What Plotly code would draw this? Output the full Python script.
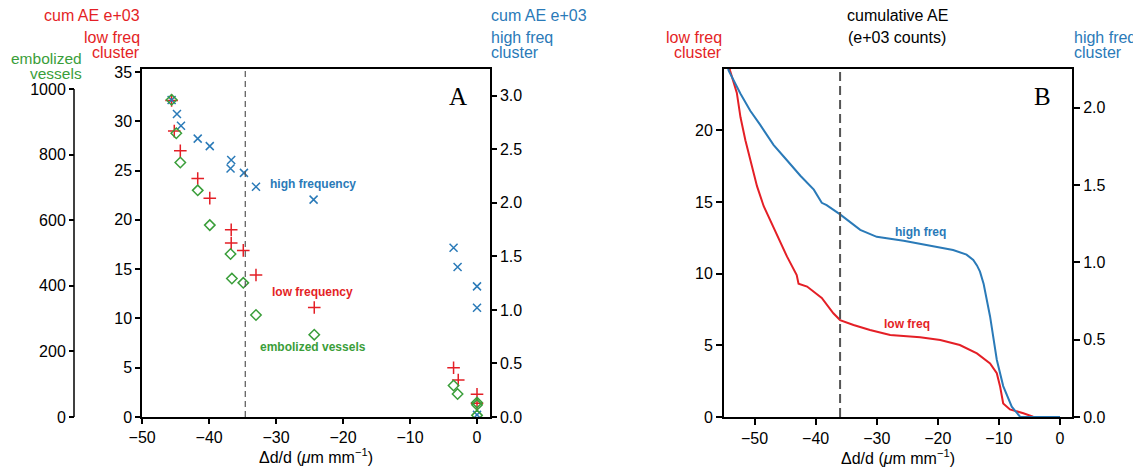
import plotly.graph_objects as go

# ---------------- Panel A data ----------------
a_hf_x = [-45.6, -44.8, -44.2, -41.7, -39.9, -36.7, -36.8, -34.8, -33.0, -24.4, -3.5, -2.9, 0, 0, 0]
a_hf_y = [2.96, 2.83, 2.72, 2.60, 2.53, 2.40, 2.32, 2.28, 2.15, 2.03, 1.58, 1.40, 1.22, 1.02, 0.02]

a_lf_x = [-45.6, -45.2, -44.3, -41.7, -39.9, -36.7, -36.7, -34.9, -33.0, -24.3, -3.5, -2.8, 0, 0]
a_lf_y = [32.1, 29.0, 27.0, 24.2, 22.2, 19.0, 17.65, 16.9, 14.4, 11.1, 5.0, 3.75, 2.3, 1.4]

a_ev_x = [-45.6, -44.9, -44.3, -41.7, -39.9, -36.8, -36.6, -34.9, -33.0, -24.3, -3.5, -2.9, 0, 0, 0]
a_ev_y = [967, 865, 776, 691, 585, 497, 422, 409, 311, 251, 96, 70, 44, 37, 5]

a_threshold = -34.6

# ---------------- Panel B data ----------------
b_lf_x = [-54.4, -54.0, -52.9, -52.3, -51.5, -50.7, -49.6, -48.5, -47.4, -46.3, -44.7, -43.1, -42.8,
          -41.4, -39.0, -37.1, -36.0, -33.8, -31.1, -27.8, -22.9, -19.6, -16.4, -13.6, -11.45,
          -10.35, -9.8, -9.3, -8.2, -6.0, -4.4, 0]
b_lf_y = [25.0, 24.15, 22.6, 20.9, 19.3, 17.9, 16.1, 14.7, 13.7, 12.6, 11.2, 9.9, 9.3,
          9.1, 8.3, 7.23, 6.76, 6.42, 6.07, 5.72, 5.56, 5.37, 5.02, 4.44, 3.74,
          3.05, 2.11, 0.95, 0.53, 0.26, 0.02, 0]

b_hf_x = [-54.5, -54.25, -52.3, -50.7, -49.1, -46.9, -44.7, -42.5, -40.3, -39.0, -38.2, -36.0,
          -32.7, -30.0, -25.6, -20.2, -17.5, -15.3, -14.2, -13.6, -13.1, -12.5, -11.45, -10.35,
          -9.3, -7.9, -6.55, 0]
b_hf_y = [2.30, 2.24, 2.09, 1.98, 1.89, 1.76, 1.66, 1.56, 1.47, 1.385, 1.37, 1.31,
          1.21, 1.165, 1.14, 1.10, 1.08, 1.05, 1.015, 0.98, 0.94, 0.86, 0.65, 0.37,
          0.20, 0.067, 0.002, 0]

b_threshold = -36.0

a_left_ticks = [0, 5, 10, 15, 20, 25, 30, 35]
a_ev_ticks = [0, 200, 400, 600, 800, 1000]
a_right_ticks = [0.0, 0.5, 1.0, 1.5, 2.0, 2.5, 3.0]
b_left_ticks = [0, 5, 10, 15, 20]
b_right_ticks = [0.0, 0.5, 1.0, 1.5, 2.0]
x_ticks = [-50, -40, -30, -20, -10, 0]

RED = '#e41f26'
BLUE = '#2a7ab8'
GREEN = '#3a9e3a'
FONT = 'Liberation Sans, Arial, sans-serif'
OFF = 8  # page body margin
W, H = 1141 - OFF, 470 - OFF

def px(x):
    return (x - OFF) / W

def py(y):
    return 1 - (y - OFF) / H

fig = go.Figure()

# Panel A traces
fig.add_trace(go.Scatter(x=a_ev_x, y=a_ev_y, mode='markers', yaxis='y3', xaxis='x',
                         marker=dict(symbol='diamond-open', size=8, color=GREEN,
                                     line=dict(color=GREEN, width=1.5)), showlegend=False))
fig.add_trace(go.Scatter(x=a_lf_x, y=a_lf_y, mode='markers', yaxis='y', xaxis='x',
                         marker=dict(symbol='cross-thin', size=9, color=RED,
                                     line=dict(color=RED, width=1.5)), showlegend=False))
fig.add_trace(go.Scatter(x=a_hf_x, y=a_hf_y, mode='markers', yaxis='y2', xaxis='x',
                         marker=dict(symbol='x-thin', size=8, color=BLUE,
                                     line=dict(color=BLUE, width=1.5)), showlegend=False))

# Panel B traces
fig.add_trace(go.Scatter(x=b_lf_x, y=b_lf_y, mode='lines', xaxis='x2', yaxis='y4',
                         line=dict(color=RED, width=2), showlegend=False))
fig.add_trace(go.Scatter(x=b_hf_x, y=b_hf_y, mode='lines', xaxis='x2', yaxis='y5',
                         line=dict(color=BLUE, width=2), showlegend=False))

ydom = [py(417), py(69)]
tickfont = dict(family=FONT, size=16, color='black')
axcommon = dict(showgrid=False, zeroline=False, showline=True, linecolor='black',
                ticks='outside', tickcolor='black', tickfont=tickfont, automargin=False)

fig.update_layout(
    template='none',
    width=W, height=H, autosize=False,
    margin=dict(l=0, r=0, t=0, b=0, pad=0),
    paper_bgcolor='white', plot_bgcolor='white',
    font=dict(family=FONT, size=16, color='black'),
    xaxis=dict(domain=[px(142), px(490)], range=[-50.02, 1.94], anchor='y',
               tickvals=x_ticks, mirror=True, linewidth=1.5, ticklen=5, tickwidth=1.5,
               title=dict(text='Δd/d (<i>μ</i>m mm<sup>−1</sup>)', font=dict(size=16), standoff=2),
               **axcommon),
    yaxis=dict(domain=ydom, range=[0, 35.3], anchor='x', tickvals=a_left_ticks,
               linewidth=1.5, ticklen=5, tickwidth=1.5, **axcommon),
    yaxis2=dict(overlaying='y', side='right', anchor='x', range=[0, 3.25],
                tickvals=a_right_ticks, tickformat='.1f', linewidth=1.5, ticklen=5,
                tickwidth=1.5, **axcommon),
    yaxis3=dict(overlaying='y', side='left', anchor='free', position=px(74),
                range=[0, 1061], tickvals=a_ev_ticks, showgrid=False, zeroline=False,
                showline=False, ticks='outside', tickcolor='black', ticklen=5, tickwidth=1.5,
                tickfont=tickfont, automargin=False),
    xaxis2=dict(domain=[px(724), px(1072)], range=[-55, 1.96], anchor='y4',
                tickvals=x_ticks, mirror=True, linewidth=2, ticklen=6, tickwidth=1.5,
                title=dict(text='Δd/d (<i>μ</i>m mm<sup>−1</sup>)', font=dict(size=16), standoff=2),
                **axcommon),
    yaxis4=dict(domain=ydom, range=[0, 24.27], anchor='x2', tickvals=b_left_ticks,
                linewidth=2, ticklen=6, tickwidth=1.5, **axcommon),
    yaxis5=dict(overlaying='y4', side='right', anchor='x2', range=[0, 2.25],
                tickvals=b_right_ticks, tickformat='.1f', linewidth=2, ticklen=6,
                tickwidth=1.5, **axcommon),
)

shapes = [
    dict(type='line', xref='paper', yref='y3', x0=px(74), x1=px(74), y0=0, y1=1000,
         line=dict(color='black', width=1.5)),
    dict(type='line', xref='x', yref='y domain', x0=a_threshold, x1=a_threshold, y0=0, y1=1,
         line=dict(color='#555555', width=1.2, dash='6px,4px')),
    dict(type='line', xref='x2', yref='y4 domain', x0=b_threshold, x1=b_threshold, y0=0, y1=1,
         line=dict(color='#555555', width=2, dash='9px,5px')),
]
fig.update_layout(shapes=shapes)

ann = []
def paper_text(text, x, y, anchor, color, size=16):
    ann.append(dict(text=text, xref='paper', yref='paper', x=px(x), y=py(y),
                    xanchor=anchor, yanchor='middle', showarrow=False,
                    font=dict(family=FONT, size=size, color=color)))

# Panel A headers
paper_text('cum AE e+03', 142, 16, 'right', RED)
paper_text('low freq', 142, 37, 'right', RED)
paper_text('cluster', 142, 53, 'right', RED)
paper_text('embolized', 84, 59, 'right', GREEN, 15.5)
paper_text('vessels', 84, 73, 'right', GREEN, 15.5)
paper_text('cum AE e+03', 489, 16, 'left', BLUE)
paper_text('high freq', 489, 37, 'left', BLUE)
paper_text('cluster', 489, 53, 'left', BLUE)
# Panel B headers
paper_text('cumulative AE', 897, 16, 'center', 'black')
paper_text('(e+03 counts)', 897, 37, 'center', 'black')
paper_text('low freq', 724, 37, 'right', RED)
paper_text('cluster', 724, 53, 'right', RED)
paper_text('high freq', 1072, 37, 'left', BLUE)
paper_text('cluster', 1072, 53, 'left', BLUE)

# Panel letters
ann.append(dict(text='A', xref='x', yref='paper', x=-2.84, y=py(97), showarrow=False,
                xanchor='center', yanchor='middle',
                font=dict(family='Liberation Serif, Times New Roman, serif', size=25, color='black')))
ann.append(dict(text='B', xref='x2', yref='paper', x=-2.8, y=py(97), showarrow=False,
                xanchor='center', yanchor='middle',
                font=dict(family='Liberation Serif, Times New Roman, serif', size=25, color='black')))

# In-plot labels
def data_text(text, x, y, xr, yr, color):
    ann.append(dict(text='<b>' + text + '</b>', xref=xr, yref=yr, x=x, y=y, showarrow=False,
                    xanchor='center', yanchor='middle',
                    font=dict(family=FONT, size=12, color=color)))

data_text('high frequency', -24.5, 23.6, 'x', 'y', BLUE)
data_text('low frequency', -24.5, 12.7, 'x', 'y', RED)
data_text('embolized vessels', -24.5, 7.1, 'x', 'y', GREEN)
data_text('high freq', -22.9, 12.9, 'x2', 'y4', BLUE)
data_text('low freq', -25.0, 6.5, 'x2', 'y4', RED)

fig.update_layout(annotations=ann)

fig.write_html('out.html')
